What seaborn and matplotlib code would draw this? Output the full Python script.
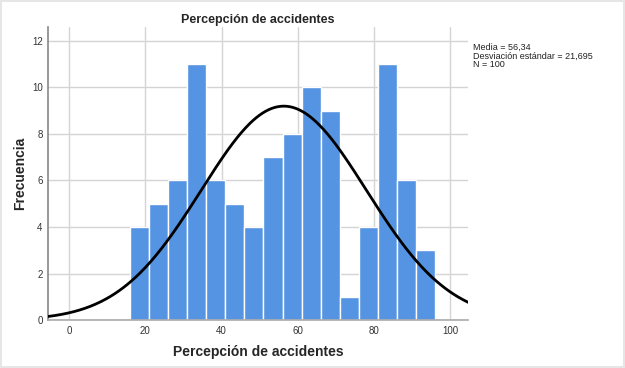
import numpy as np
import pandas as pd
import matplotlib
matplotlib.use("Agg")
import matplotlib.pyplot as plt
import seaborn as sns

# Data
bin_edges = [16, 21, 26, 31, 36, 41, 46, 51, 56, 61, 66, 71, 76, 81, 86, 91, 96]
counts = [4, 5, 6, 11, 6, 5, 4, 7, 8, 10, 9, 1, 4, 11, 6, 3]
mean_val = 56.34
sd_val = 21.695
n_val = 100
bin_width = 5
x_ticks = [0, 20, 40, 60, 80, 100]
y_ticks = [0, 2, 4, 6, 8, 10, 12]

sns.set_theme(style="whitegrid")
plt.rcParams['font.family'] = ['Arial', 'Liberation Sans', 'DejaVu Sans']

fig = plt.figure(figsize=(6.25, 3.68), dpi=100)
fig.patch.set_edgecolor('#e6e6e6')
fig.patch.set_linewidth(1.5)
ax = fig.add_axes([0.077, 0.130, 0.672, 0.797])

centers = [(bin_edges[i] + bin_edges[i + 1]) / 2 for i in range(len(counts))]
df = pd.DataFrame({"x": centers, "w": counts})
sns.histplot(data=df, x="x", weights="w", bins=bin_edges, ax=ax,
             color="#5594e2", alpha=1.0, edgecolor="white", linewidth=1.0, zorder=2)

xs = np.linspace(-5.5, 105, 400)
ys = n_val * bin_width / (sd_val * np.sqrt(2 * np.pi)) * np.exp(-0.5 * ((xs - mean_val) / sd_val) ** 2)
sns.lineplot(x=xs, y=ys, ax=ax, color="black", linewidth=2.0, zorder=3)

ax.set_xlim(-5.5, 104.7)
ax.set_ylim(0, 12.6)
ax.set_xticks(x_ticks)
ax.set_yticks(y_ticks)
ax.tick_params(axis='both', labelsize=7, colors='#333333', length=0, pad=4)
ax.grid(True, color='#d4d4d4', linewidth=1.0, zorder=0)
ax.set_axisbelow(True)
for s in ['top', 'right']:
    ax.spines[s].set_visible(False)
ax.spines['left'].set_color('#888888')
ax.spines['bottom'].set_color('#aaaaaa')
ax.spines['left'].set_linewidth(1.2)
ax.spines['bottom'].set_linewidth(1.2)

ax.set_title("Percepción de accidentes", fontsize=9, fontweight='bold', pad=3)
ax.set_xlabel("Percepción de accidentes", fontsize=10, fontweight='bold')
ax.set_ylabel("Frecuencia", fontsize=10, fontweight='bold')
ax.xaxis.set_label_coords(0.5, -0.109)
ax.yaxis.set_label_coords(-0.067, 0.5)
ax.xaxis.label.set_va('center')
ax.yaxis.label.set_va('center')

fig.text(0.757, 0.885, f"Media = 56,34\nDesviación estándar = 21,695\nN = {n_val}",
         fontsize=6.5, va='top', ha='left', linespacing=1.0, color='#222222')

fig.savefig("out.png", dpi=100)
